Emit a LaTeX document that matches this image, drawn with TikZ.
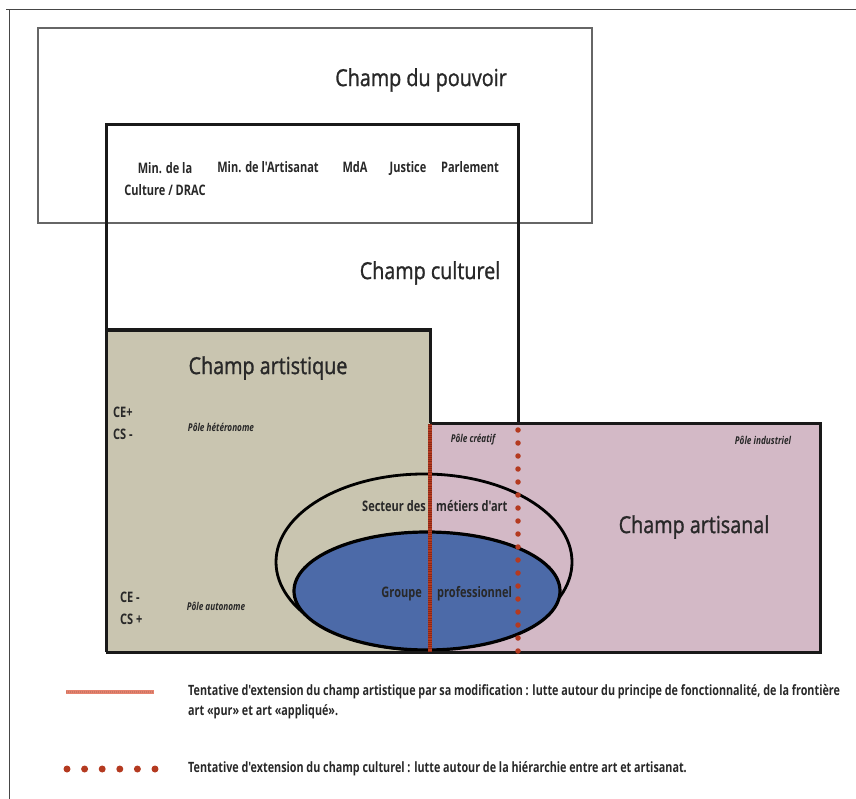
\documentclass[tikz,border=0pt]{standalone}
\usepackage{fontspec}
\setmainfont{Open Sans}[FakeStretch=0.84]
\newfontfamily\labfont{Open Sans}[FakeStretch=0.76]
\newfontfamily\titfont{Open Sans}[FakeStretch=0.84, FakeBold=1.2]
\definecolor{artist}{RGB}{201,197,176}
\definecolor{artisan}{RGB}{211,185,198}
\definecolor{grpblue}{RGB}{76,106,168}
\definecolor{redline}{RGB}{180,58,32}
\definecolor{darkred}{RGB}{140,40,20}
\definecolor{salmon}{RGB}{230,130,110}
\definecolor{framegray}{RGB}{70,70,70}
\definecolor{ink}{RGB}{40,40,40}
\tikzset{
  boxline/.style={line width=3pt, draw=black!90},
  label/.style={font=\labfont\bfseries\fontsize{14.5}{22}\selectfont, text=ink, inner sep=0pt},
  title/.style={font=\titfont\fontsize{23.5}{26}\selectfont, text=ink, inner sep=0pt},
  pole/.style={font=\labfont\bfseries\itshape\fontsize{10.8}{12}\selectfont, text=ink, inner sep=0pt},
  legend/.style={font=\labfont\bfseries\fontsize{14.2}{20}\selectfont, text=ink, inner sep=0pt, anchor=west, align=left},
  redsolid/.style={line width=4pt, draw=redline},
  redticks/.style={line width=4pt, draw=darkred, dash pattern=on 0.8pt off 1.4pt},
  reddots/.style={line width=5.5pt, draw=redline, line cap=round, dash pattern=on 0pt off 13pt},
}
\begin{document}
\begin{tikzpicture}[x=1pt,y=-1pt]
\useasboundingbox (0,0) rectangle (856,799);
% outer frame (cut off at right and bottom)
\draw[framegray, line width=1.5pt] (6,9.5) -- (856,9.5);
\draw[framegray, line width=1.5pt] (9.5,9.5) -- (9.5,799);
% fills
\fill[artist] (106,330) rectangle (430,652);
\fill[artisan] (430,423) rectangle (820,652);
% ellipses
\draw[black, line width=2.8pt] (424,562) ellipse [x radius=148, y radius=88];
\fill[grpblue] (427,591) ellipse [x radius=133, y radius=59];
\draw[black, line width=3.2pt] (427,591) ellipse [x radius=133, y radius=59];
% champ du pouvoir
\draw[black!60, line width=1.5pt] (38,28) rectangle (592,223);
% champ culturel
\draw[boxline] (106,652) -- (106,125) -- (518,125) -- (518,423);
% champ artistique
\draw[boxline] (106,330) -- (430,330) -- (430,423);
% champ artisanal
\draw[boxline] (430,423) -- (820,423) -- (820,652) -- (106,652);
% red lines
\coordinate (rs1) at (430,424);
\coordinate (rs2) at (430,652);
\draw[redsolid] (rs1) -- (rs2);
\draw[redticks] (rs1) -- (rs2);
\coordinate (rd1) at (518,430);
\coordinate (rd2) at (518,652);
\draw[reddots] (rd1) -- (rd2);
% texts
\node[title] (pouvoir) at (421,80) {Champ du pouvoir};
\node[label, align=center] (mincult) at (165,179) {Min. de la\\Culture / DRAC};
\node[label, anchor=base] (minart) at (268,173) {Min. de l'Artisanat};
\node[label, anchor=base] (mda) at (355,173) {MdA};
\node[label, anchor=base] (justice) at (408,173) {Justice};
\node[label, anchor=base] (parl) at (470,173) {Parlement};
\node[title] (culturel) at (430,273) {Champ culturel};
\node[title] (artistique) at (268,368) {Champ artistique};
\node[label, align=left, anchor=west] (cehet) at (113,423) {CE+\\CS -};
\node[pole] (het) at (221,427) {Pôle hétéronome};
\node[label, align=left, anchor=west] (ceaut) at (120,608) {CE -\\CS +};
\node[pole] (aut) at (216,606) {Pôle autonome};
\node[pole] (creatif) at (473,440) {Pôle créatif};
\node[pole] (indus) at (763,440) {Pôle industriel};
\node[title] (artisanal) at (694,527) {Champ artisanal};
\node[label, anchor=east] (secteur1) at (426,506) {Secteur des};
\node[label, anchor=west] (secteur2) at (436,506) {métiers d'art};
\node[label, anchor=east] (groupe1) at (422,594) {Groupe};
\node[label, anchor=west] (groupe2) at (437,594) {professionnel};
% legend
\coordinate (l1a) at (66,692);
\coordinate (l1b) at (154,692);
\draw[line width=4.5pt, salmon] (l1a) -- (l1b);
\draw[line width=1.2pt, redline!70, dash pattern=on 1pt off 1pt] (l1a) -- (l1b);
\node[legend] (leg1) at (188,702) {Tentative d'extension du champ artistique par sa modification :  lutte autour du principe de fonctionnalité, de la frontière\\art «pur» et art «appliqué».};
\coordinate (l2a) at (67,769);
\coordinate (l2b) at (155,769);
\draw[line width=7pt, redline, line cap=round, dash pattern=on 0pt off 17.6pt] (l2a) -- (l2b);
\node[legend] (leg2) at (188,769) {Tentative d'extension du champ culturel : lutte autour de la hiérarchie entre art et artisanat.};
\end{tikzpicture}
\end{document}
